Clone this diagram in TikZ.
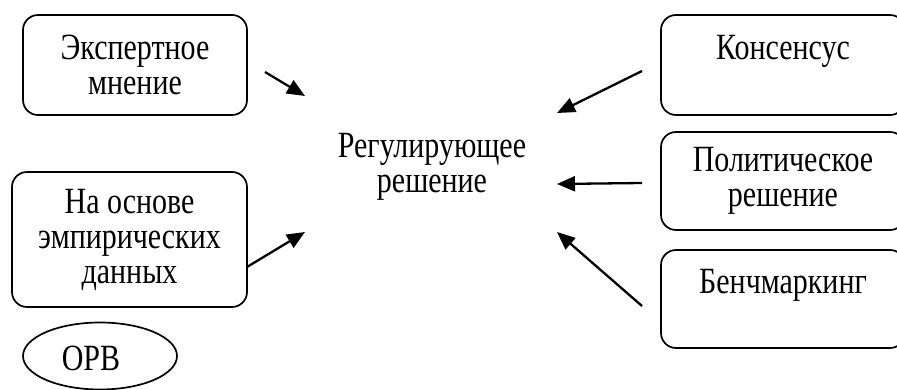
\documentclass[tikz,border=0pt]{standalone}
\usepackage{fontspec}
\setmainfont{Liberation Serif}[FakeStretch=0.81]
\usetikzlibrary{arrows.meta,shapes.geometric}
\begin{document}
\begin{tikzpicture}[x=1pt,y=-1pt,
  box/.style={draw,line width=1.7pt,rounded corners=15pt,align=center,inner sep=0pt},
  txt/.style={font=\fontsize{37}{35}\selectfont,align=center},
  arr/.style={line width=2.3pt,-{Triangle[length=18pt,width=15pt]}}]
\useasboundingbox (0,0) rectangle (897,390);
\clip (0,0) rectangle (897,390);
\node[box,txt,minimum width=224pt,minimum height=100pt] (exp) at (135,65) {Экспертное\\мнение};
\node[box,txt,minimum width=235pt,minimum height=135pt] (emp) at (129.5,239.5) {На основе\\эмпирических\\данных};
\node[draw,ellipse,line width=1.7pt,minimum width=154pt,minimum height=67pt,inner sep=0pt] (orv) at (100,356) {};
\node[txt] (orvt) at (91,358) {ОРВ};
\node[txt] (reg) at (432,167) {Регулирующее\\решение};
\node[box,txt,minimum width=244pt,minimum height=100pt] (kons) at (783,65) {Консенсус\\\mbox{}};
\node[box,txt,minimum width=244pt,minimum height=98pt] (pol) at (783,181) {Политическое\\решение};
\node[box,txt,minimum width=244pt,minimum height=98pt] (bench) at (783,299) {Бенчмаркинг\\\mbox{}};
\coordinate (a1s) at (265,72);
\coordinate (a1e) at (305,96);
\coordinate (a2s) at (247,267);
\coordinate (a2e) at (305,232);
\coordinate (a3s) at (642,71);
\coordinate (a3e) at (557,113);
\coordinate (a4s) at (642,183);
\coordinate (a4e) at (557,184);
\coordinate (a5s) at (642,306);
\coordinate (a5e) at (557,232);
\draw[arr] (a1s) -- (a1e);
\draw[arr] (a2s) -- (a2e);
\draw[arr] (a3s) -- (a3e);
\draw[arr] (a4s) -- (a4e);
\draw[arr] (a5s) -- (a5e);
\end{tikzpicture}
\end{document}
